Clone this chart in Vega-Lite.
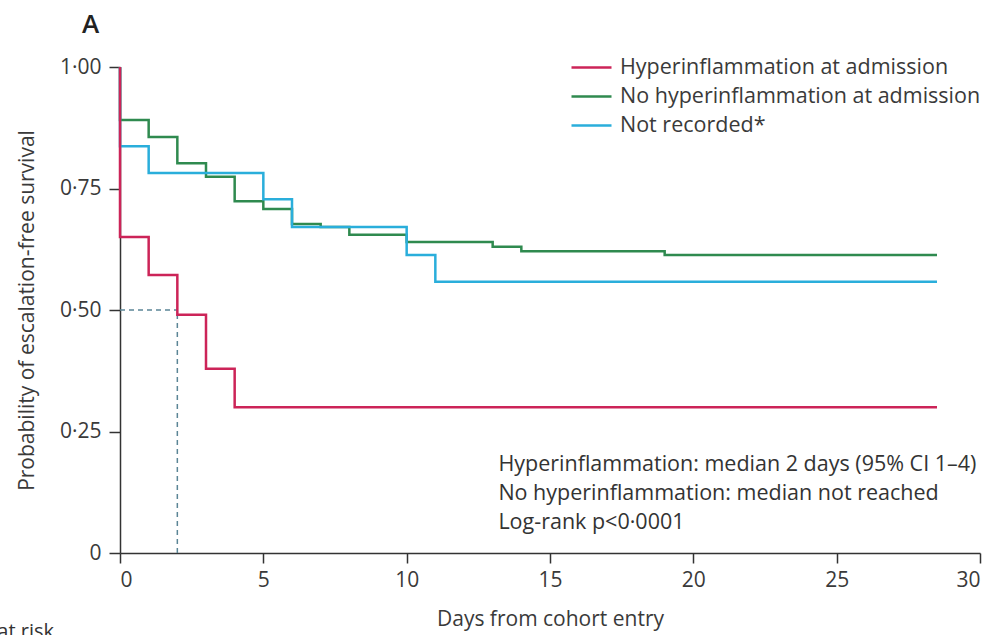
{
  "$schema": "https://vega.github.io/schema/vega-lite/v6.json",
  "width": 860,
  "height": 486,
  "autosize": "none",
  "padding": {"left": 120, "top": 67, "right": 16, "bottom": 82},
  "background": "white",
  "config": {
    "font": "Open Sans",
    "view": {"stroke": null},
    "axis": {
      "grid": false,
      "domainColor": "#333",
      "domainWidth": 1.5,
      "tickColor": "#333",
      "tickWidth": 1.5,
      "labelFontSize": 21,
      "labelColor": "#3a3a3a",
      "labelFont": "Open Sans",
      "titleFont": "Open Sans",
      "titleFontSize": 21,
      "titleColor": "#3a3a3a",
      "titleFontWeight": "normal"
    },
    "legend": {
      "orient": "none",
      "legendX": 450,
      "legendY": -14,
      "padding": 0,
      "symbolType": "stroke",
      "symbolSize": 1600,
      "symbolStrokeWidth": 2.5,
      "clipHeight": 29,
      "labelFontSize": 21.5,
      "labelColor": "#3a3a3a",
      "labelFont": "Open Sans",
      "labelOffset": 7,
      "labelLimit": 0,
      "rowPadding": 0,
      "title": null
    }
  },
  "title": {
    "text": "A",
    "anchor": "start",
    "frame": "group",
    "dx": -38,
    "offset": 15,
    "fontSize": 26,
    "fontWeight": 600,
    "font": "Open Sans",
    "color": "#222"
  },
  "data": {
    "values": [
      {"group": "No hyperinflammation at admission", "i": 0, "t": 0, "s": 1.0},
      {"group": "No hyperinflammation at admission", "i": 1, "t": 0, "s": 0.891},
      {"group": "No hyperinflammation at admission", "i": 2, "t": 1, "s": 0.856},
      {"group": "No hyperinflammation at admission", "i": 3, "t": 2, "s": 0.802},
      {"group": "No hyperinflammation at admission", "i": 4, "t": 3, "s": 0.774},
      {"group": "No hyperinflammation at admission", "i": 5, "t": 4, "s": 0.724},
      {"group": "No hyperinflammation at admission", "i": 6, "t": 5, "s": 0.708},
      {"group": "No hyperinflammation at admission", "i": 7, "t": 6, "s": 0.677},
      {"group": "No hyperinflammation at admission", "i": 8, "t": 7, "s": 0.671},
      {"group": "No hyperinflammation at admission", "i": 9, "t": 8, "s": 0.655},
      {"group": "No hyperinflammation at admission", "i": 10, "t": 10, "s": 0.64},
      {"group": "No hyperinflammation at admission", "i": 11, "t": 13, "s": 0.63},
      {"group": "No hyperinflammation at admission", "i": 12, "t": 14, "s": 0.621},
      {"group": "No hyperinflammation at admission", "i": 13, "t": 19, "s": 0.613},
      {"group": "No hyperinflammation at admission", "i": 14, "t": 28.5, "s": 0.613},
      {"group": "Not recorded*", "i": 0, "t": 0, "s": 1.0},
      {"group": "Not recorded*", "i": 1, "t": 0, "s": 0.837},
      {"group": "Not recorded*", "i": 2, "t": 1, "s": 0.782},
      {"group": "Not recorded*", "i": 3, "t": 5, "s": 0.728},
      {"group": "Not recorded*", "i": 4, "t": 6, "s": 0.671},
      {"group": "Not recorded*", "i": 5, "t": 10, "s": 0.613},
      {"group": "Not recorded*", "i": 6, "t": 11, "s": 0.558},
      {"group": "Not recorded*", "i": 7, "t": 28.5, "s": 0.558},
      {"group": "Hyperinflammation at admission", "i": 0, "t": 0, "s": 1.0},
      {"group": "Hyperinflammation at admission", "i": 1, "t": 0, "s": 0.65},
      {"group": "Hyperinflammation at admission", "i": 2, "t": 1, "s": 0.572},
      {"group": "Hyperinflammation at admission", "i": 3, "t": 2, "s": 0.49},
      {"group": "Hyperinflammation at admission", "i": 4, "t": 3, "s": 0.379},
      {"group": "Hyperinflammation at admission", "i": 5, "t": 4, "s": 0.3},
      {"group": "Hyperinflammation at admission", "i": 6, "t": 28.5, "s": 0.3}
    ]
  },
  "layer": [
    {
      "data": {"values": [{}]},
      "mark": {"type": "rule", "strokeDash": [5, 4], "strokeWidth": 1.5, "color": "#5b8596"},
      "encoding": {
        "x": {"datum": 0, "type": "quantitative"},
        "x2": {"datum": 2},
        "y": {"datum": 0.5, "type": "quantitative"}
      }
    },
    {
      "data": {"values": [{}]},
      "mark": {"type": "rule", "strokeDash": [5, 4], "strokeWidth": 1.5, "color": "#5b8596"},
      "encoding": {
        "x": {"datum": 2, "type": "quantitative"},
        "y": {"datum": 0, "type": "quantitative"},
        "y2": {"datum": 0.5}
      }
    },
    {
      "mark": {"type": "line", "interpolate": "step-after", "strokeWidth": 2.5},
      "encoding": {
        "x": {
          "field": "t",
          "type": "quantitative",
          "scale": {"domain": [0, 30], "nice": false},
          "axis": {"values": [0, 5, 10, 15, 20, 25, 30], "title": "Days from cohort entry", "tickSize": 10, "labelPadding": 6, "titlePadding": 18}
        },
        "y": {
          "field": "s",
          "type": "quantitative",
          "scale": {"domain": [0, 1], "nice": false},
          "axis": {
            "values": [0, 0.25, 0.5, 0.75, 1],
            "labelExpr": "datum.value == 0 ? '0' : replace(format(datum.value, '.2f'), '.', '·')",
            "title": "Probability of escalation-free survival",
            "tickSize": 11,
            "labelPadding": 8,
            "titlePadding": 22
          }
        },
        "color": {
          "field": "group",
          "type": "nominal",
          "scale": {
            "domain": ["Hyperinflammation at admission", "No hyperinflammation at admission", "Not recorded*"],
            "range": ["#cc2458", "#2f8a4f", "#2aaedb"]
          }
        },
        "order": {"field": "i", "type": "quantitative"}
      }
    },
    {
      "data": {"values": [{}]},
      "mark": {"type": "text", "align": "left", "baseline": "middle", "fontSize": 21.5, "color": "#333", "font": "Open Sans"},
      "encoding": {
        "x": {"datum": 13.2, "type": "quantitative"},
        "y": {"datum": 0.181, "type": "quantitative"},
        "text": {"value": "Hyperinflammation: median 2 days (95% CI 1–4)"}
      }
    },
    {
      "data": {"values": [{}]},
      "mark": {"type": "text", "align": "left", "baseline": "middle", "fontSize": 21.5, "color": "#333", "font": "Open Sans"},
      "encoding": {
        "x": {"datum": 13.2, "type": "quantitative"},
        "y": {"datum": 0.121, "type": "quantitative"},
        "text": {"value": "No hyperinflammation: median not reached"}
      }
    },
    {
      "data": {"values": [{}]},
      "mark": {"type": "text", "align": "left", "baseline": "middle", "fontSize": 21.5, "color": "#333", "font": "Open Sans"},
      "encoding": {
        "x": {"datum": 13.2, "type": "quantitative"},
        "y": {"datum": 0.061, "type": "quantitative"},
        "text": {"value": "Log-rank p<0·0001"}
      }
    },
    {
      "data": {"values": [{}]},
      "mark": {"type": "text", "align": "right", "baseline": "top", "fontSize": 20, "color": "#333", "font": "Open Sans"},
      "encoding": {
        "x": {"datum": -2.3, "type": "quantitative"},
        "y": {"datum": -0.142, "type": "quantitative"},
        "text": {"value": "Number at risk"}
      }
    }
  ]
}
